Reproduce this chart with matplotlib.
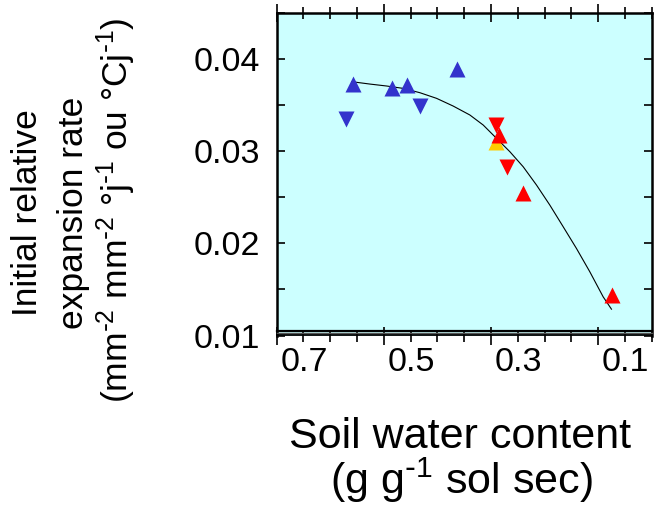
import matplotlib
matplotlib.use("Agg")
import matplotlib.pyplot as plt
import matplotlib.transforms as mtransforms
from matplotlib.ticker import MultipleLocator

plt.rcParams['font.family'] = ['Liberation Sans', 'DejaVu Sans']
plt.rcParams['mathtext.default'] = 'regular'

# Data (soil water content, g/g ; initial relative expansion rate)
blue_up_x = [0.558, 0.484, 0.4575, 0.364]
blue_up_y = [0.0373, 0.03685, 0.0372, 0.0390]
blue_down_x = [0.571, 0.433]
blue_down_y = [0.03348, 0.03496]
yellow_up_x = [0.291]
yellow_up_y = [0.0310]
red_down_x = [0.291, 0.270]
red_down_y = [0.03286, 0.02833]
red_up_x = [0.2847, 0.241, 0.075]
red_up_y = [0.03177, 0.02543, 0.01438]

# Fitted curve
fit_x = [0.5601, 0.5259, 0.4948, 0.4637, 0.4326, 0.4016, 0.3705, 0.3394, 0.3145, 0.2896,
         0.2647, 0.2399, 0.2150, 0.1901, 0.1652, 0.1404, 0.1155, 0.0906, 0.0751]
fit_y = [0.03757, 0.03731, 0.03710, 0.03684, 0.03637, 0.03576, 0.03492, 0.03395, 0.03286, 0.03141,
         0.02996, 0.02833, 0.02634, 0.02416, 0.02181, 0.01945, 0.01692, 0.01420, 0.01286]

xticks = [0.7, 0.5, 0.3, 0.1]
xticklabels = ['0.7', '0.5', '0.3', '0.1']
yticks = [0.01, 0.02, 0.03, 0.04]
yticklabels = ['0.01', '0.02', '0.03', '0.04']

W, H = 662, 517
fig = plt.figure(figsize=(W / 100, H / 100), dpi=100)
ax = fig.add_axes([276.7 / W, 1 - 335.5 / H, (651.7 - 276.7) / W, (335.5 - 13) / H])
ax.set_facecolor('#CCFFFF')

ax.plot(fit_x, fit_y, color='black', lw=0.8, zorder=3)
ms = 11.5
ax.plot(yellow_up_x, yellow_up_y, '^', color='#FFCC00', ms=ms, mec='none', zorder=4)
ax.plot(blue_up_x, blue_up_y, '^', color='#3333CC', ms=ms, mec='none', zorder=5)
ax.plot(blue_down_x, blue_down_y, 'v', color='#3333CC', ms=ms, mec='none', zorder=5)
ax.plot(red_down_x, red_down_y, 'v', color='#FF0000', ms=ms, mec='none', zorder=5)
ax.plot(red_up_x, red_up_y, '^', color='#FF0000', ms=ms, mec='none', zorder=5)

ax.set_xlim(0.7, 0.0)
ax.set_ylim(0.01, 0.04503)

ax.set_xticks(xticks)
ax.set_xticklabels(xticklabels)
ax.xaxis.set_minor_locator(MultipleLocator(0.05))
ax.set_yticks(yticks)
ax.set_yticklabels(yticklabels)
ax.yaxis.set_minor_locator(MultipleLocator(0.005))

ax.tick_params(axis='y', which='both', direction='in', left=True, right=True,
               labelsize=24.5, pad=12, width=1.2)
ax.tick_params(axis='y', which='major', length=6)
ax.tick_params(axis='y', which='minor', length=6)
ax.tick_params(axis='x', which='both', direction='inout', bottom=True, top=True,
               labelsize=24.5, pad=2, width=1.2)
ax.tick_params(axis='x', which='major', length=13)
ax.tick_params(axis='x', which='minor', length=9)

offset = mtransforms.ScaledTranslation(3.5 / 100, 0, fig.dpi_scale_trans)
for lab in ax.get_xticklabels():
    lab.set_horizontalalignment('left')
    lab.set_transform(lab.get_transform() + offset)

for s in ['left', 'top', 'right']:
    ax.spines[s].set_linewidth(1.8)
ax.spines['bottom'].set_visible(False)
ax.axhline(0.01049, color='black', lw=1.6, zorder=6, clip_on=False)
ax.axhline(0.01027, color='#555555', lw=1.0, zorder=6, clip_on=False)
ax.axhline(0.01005, color='black', lw=1.3, zorder=6, clip_on=False)

def fx(px):
    return px / W
def fy(py):
    return 1 - py / H

yfs = 25.5
fig.text(fx(37), fy(213), 'Initial relative', rotation=90, rotation_mode='anchor',
         ha='center', va='baseline', fontsize=yfs)
fig.text(fx(83), fy(213), 'expansion rate', rotation=90, rotation_mode='anchor',
         ha='center', va='baseline', fontsize=yfs)
fig.text(fx(128), fy(210), r'(mm$^{\text{-}2}$ mm$^{\text{-}2}$ °j$^{\text{-}1}$ ou °Cj$^{\text{-}1}$)',
         rotation=90, rotation_mode='anchor', ha='center', va='baseline', fontsize=yfs)

xfs = 31
fig.text(fx(460), fy(448), 'Soil water content', ha='center', va='baseline', fontsize=xfs)
fig.text(fx(461), fy(494), r'(g g$^{\text{-}1}$ sol sec)', ha='center', va='baseline', fontsize=xfs)

fig.savefig('out.png', dpi=100)
